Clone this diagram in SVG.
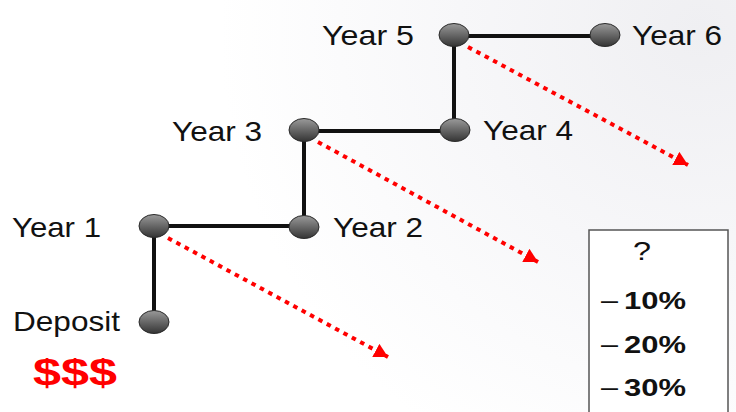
<svg xmlns="http://www.w3.org/2000/svg" width="736" height="412" viewBox="0 0 736 412">
  <defs>
    <radialGradient id="bg" cx="700" cy="30" r="480" gradientUnits="userSpaceOnUse">
      <stop offset="0" stop-color="#efeff2"/>
      <stop offset="0.5" stop-color="#f7f7f9"/>
      <stop offset="1" stop-color="#ffffff"/>
    </radialGradient>
    <linearGradient id="knob" x1="0" y1="0" x2="0" y2="1">
      <stop offset="0" stop-color="#9a9a9a"/>
      <stop offset="0.45" stop-color="#6c6c6c"/>
      <stop offset="1" stop-color="#343434"/>
    </linearGradient>
    <marker id="head" viewBox="0 0 12 13" refX="12" refY="6.5" markerWidth="14" markerHeight="15" markerUnits="userSpaceOnUse" orient="auto">
      <path d="M0,0 L12,6.5 L0,13 z" fill="#ff0000"/>
    </marker>
    <style>
      .lbl { font-family: "Liberation Sans", Arial, sans-serif; font-size: 28px; fill: #111; }
      .pct { font-family: "Liberation Sans", Arial, sans-serif; font-size: 24px; font-weight: bold; fill: #111; }
      .dash { font-family: "Liberation Sans", Arial, sans-serif; font-size: 25px; font-weight: normal; fill: #111; }
      .node { fill: url(#knob); stroke: #2a2a2a; stroke-width: 1; }
      .path { stroke: #111; stroke-width: 4; fill: none; }
      .drop { stroke: #ff0000; stroke-width: 4; stroke-dasharray: 4.5 5; fill: none; marker-end: url(#head); }
    </style>
  </defs>

  <rect width="736" height="412" fill="url(#bg)"/>

  <!-- staircase of yearly steps and the falling-value arrows -->
  <g id="connectors">
    <path class="path" d="M154,322 V226 H304 V131 H454 V36 H605"/>
    <line class="drop" x1="168" y1="238" x2="388" y2="357"/>
    <line class="drop" x1="318" y1="142" x2="538" y2="262"/>
    <line class="drop" x1="468" y1="47" x2="688" y2="165"/>
  </g>

  <g id="deposit">
    <ellipse class="node" cx="154" cy="322" rx="15" ry="11.5"/>
    <text class="lbl" x="13" y="331" textLength="107" lengthAdjust="spacingAndGlyphs">Deposit</text>
  </g>
  <g id="year1">
    <ellipse class="node" cx="154" cy="226" rx="15" ry="11.5"/>
    <text class="lbl" x="12" y="237" textLength="89" lengthAdjust="spacingAndGlyphs">Year 1</text>
  </g>
  <g id="year2">
    <ellipse class="node" cx="304" cy="227" rx="15" ry="11.5"/>
    <text class="lbl" x="333" y="237" textLength="90" lengthAdjust="spacingAndGlyphs">Year 2</text>
  </g>
  <g id="year3">
    <ellipse class="node" cx="304" cy="130" rx="15" ry="11.5"/>
    <text class="lbl" x="172" y="141" textLength="90" lengthAdjust="spacingAndGlyphs">Year 3</text>
  </g>
  <g id="year4">
    <ellipse class="node" cx="455" cy="130" rx="15" ry="11.5"/>
    <text class="lbl" x="483" y="140" textLength="90" lengthAdjust="spacingAndGlyphs">Year 4</text>
  </g>
  <g id="year5">
    <ellipse class="node" cx="454" cy="35" rx="15" ry="11.5"/>
    <text class="lbl" x="322" y="45" textLength="92" lengthAdjust="spacingAndGlyphs">Year 5</text>
  </g>
  <g id="year6">
    <ellipse class="node" cx="605" cy="35" rx="15" ry="11.5"/>
    <text class="lbl" x="632" y="45" textLength="90" lengthAdjust="spacingAndGlyphs">Year 6</text>
  </g>

  <!-- money deposited -->
  <text x="33" y="385" font-family="'Liberation Sans', Arial, sans-serif" font-size="36" font-weight="bold" fill="#ff0000" textLength="84" lengthAdjust="spacingAndGlyphs">$$$</text>

  <!-- possible losses -->
  <g id="losses">
    <rect x="589" y="230" width="139" height="200" fill="#ffffff" stroke="#555" stroke-width="1.5"/>
    <text x="633" y="260" font-family="'Liberation Sans', Arial, sans-serif" font-size="25" fill="#111" textLength="18" lengthAdjust="spacingAndGlyphs">?</text>
    <text class="dash" x="601" y="309" textLength="17" lengthAdjust="spacingAndGlyphs">–</text>
    <text class="pct" x="624" y="309" textLength="62" lengthAdjust="spacingAndGlyphs">10%</text>
    <text class="dash" x="601" y="353" textLength="17" lengthAdjust="spacingAndGlyphs">–</text>
    <text class="pct" x="624" y="353" textLength="62" lengthAdjust="spacingAndGlyphs">20%</text>
    <text class="dash" x="601" y="396" textLength="17" lengthAdjust="spacingAndGlyphs">–</text>
    <text class="pct" x="624" y="396" textLength="62" lengthAdjust="spacingAndGlyphs">30%</text>
  </g>
</svg>
